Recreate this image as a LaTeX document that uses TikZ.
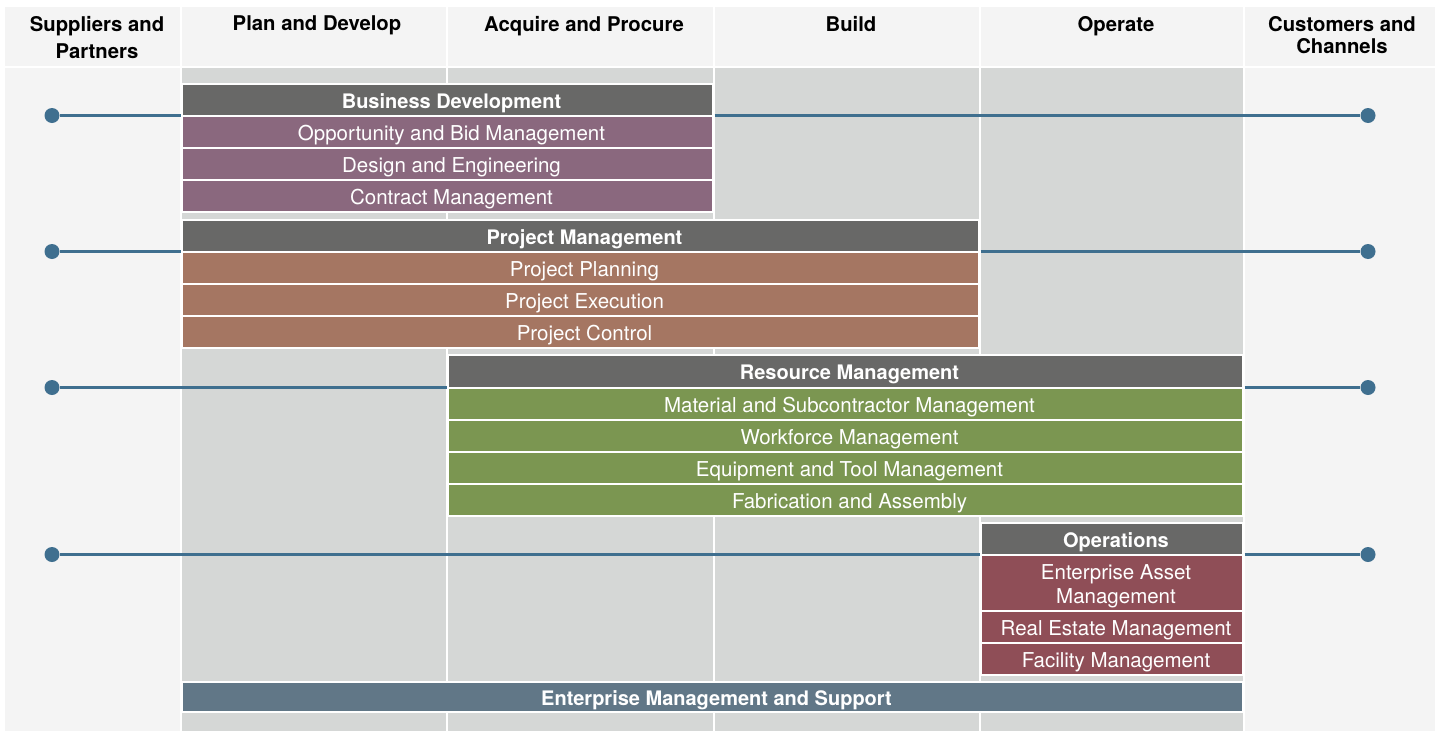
\documentclass[tikz,border=0pt]{standalone}
\usepackage{fontspec}
\setmainfont{TeX Gyre Heros}
\definecolor{hdrbg}{HTML}{F4F4F4}
\definecolor{colbg}{HTML}{D5D7D6}
\definecolor{dkhead}{HTML}{686867}
\definecolor{cPurp}{HTML}{8A687E}
\definecolor{cBrown}{HTML}{A57662}
\definecolor{cGreen}{HTML}{7B9651}
\definecolor{cRed}{HTML}{8F4E57}
\definecolor{cSlate}{HTML}{617787}
\definecolor{cLine}{HTML}{3F6F8F}
\begin{document}
\begin{tikzpicture}[x=1pt,y=-1pt,
  colhead/.style={anchor=north, inner sep=0pt, align=center, font=\bfseries\fontsize{20.3}{26}\selectfont, text=black},
  bx/.style={draw=white, line width=2pt, inner sep=0pt, outer sep=0pt, text=white, align=center},
  bxhead/.style={bx, fill=dkhead, font=\bfseries\fontsize{20}{24}\selectfont, text height=17pt, text depth=0pt, execute at begin node={\hspace*{8pt}}},
  bxitem/.style={bx, font=\fontsize{20.5}{24}\selectfont, text height=17.8pt, text depth=0pt, execute at begin node={\hspace*{8pt}}},
  dot/.style={circle, fill=cLine, minimum size=15pt, inner sep=0pt},
  conn/.style={draw=cLine, line width=2.4pt}
]
\useasboundingbox (0,0) rectangle (1440,731);
\fill[white] (0,0) rectangle (1440,731);
% header cells
\fill[hdrbg] (5,7) rectangle (180,66);
\fill[hdrbg] (182,7) rectangle (446,66);
\fill[hdrbg] (448,7) rectangle (713,66);
\fill[hdrbg] (715,7) rectangle (979,66);
\fill[hdrbg] (981,7) rectangle (1243,66);
\fill[hdrbg] (1245,7) rectangle (1435,66);
% body columns
\fill[hdrbg] (5,68) rectangle (180,731);
\fill[colbg] (182,68) rectangle (446,731);
\fill[colbg] (448,68) rectangle (713,731);
\fill[colbg] (715,68) rectangle (979,731);
\fill[colbg] (981,68) rectangle (1243,731);
\fill[hdrbg] (1245,68) rectangle (1435,731);
% column headings
\node[colhead, font=\bfseries\fontsize{20.3}{27}\selectfont] (h1) at (97,16) {Suppliers and\\Partners};
\node[colhead] (h2) at (317,16) {Plan and Develop};
\node[colhead] (h3) at (584,16) {Acquire and Procure};
\node[colhead] (h4) at (851,16) {Build};
\node[colhead] (h5) at (1116,16) {Operate};
\node[colhead, font=\bfseries\fontsize{20.3}{22}\selectfont] (h6) at (1342,16) {Customers and\\Channels};
% dots
\node[dot] (dl1) at (52,115.5) {};
\node[dot] (dl2) at (52,251.5) {};
\node[dot] (dl3) at (52,387.5) {};
\node[dot] (dl4) at (52,554.5) {};
\node[dot] (dr1) at (1368,115.5) {};
\node[dot] (dr2) at (1368,251.5) {};
\node[dot] (dr3) at (1368,387.5) {};
\node[dot] (dr4) at (1368,554.5) {};
% boxes: Business Development
\node[bxhead, minimum width=531pt, minimum height=31.5pt] (bdh) at (447.5,99.75) {Business Development};
\node[bxitem, fill=cPurp, minimum width=531pt, minimum height=32pt] (bd1) at (447.5,131.5) {Opportunity and Bid Management};
\node[bxitem, fill=cPurp, minimum width=531pt, minimum height=32pt] (bd2) at (447.5,163.5) {Design and Engineering};
\node[bxitem, fill=cPurp, minimum width=531pt, minimum height=32pt] (bd3) at (447.5,195.5) {Contract Management};
% Project Management
\node[bxhead, minimum width=797pt, minimum height=32pt] (pmh) at (580.5,235.5) {Project Management};
\node[bxitem, fill=cBrown, minimum width=797pt, minimum height=32pt] (pm1) at (580.5,267.5) {Project Planning};
\node[bxitem, fill=cBrown, minimum width=797pt, minimum height=32pt] (pm2) at (580.5,299.5) {Project Execution};
\node[bxitem, fill=cBrown, minimum width=797pt, minimum height=32pt] (pm3) at (580.5,331.5) {Project Control};
% Resource Management
\node[bxhead, minimum width=795pt, minimum height=32.5pt] (rmh) at (845.5,371.25) {Resource Management};
\node[bxitem, fill=cGreen, minimum width=795pt, minimum height=32pt] (rm1) at (845.5,403.5) {Material and Subcontractor Management};
\node[bxitem, fill=cGreen, minimum width=795pt, minimum height=32pt] (rm2) at (845.5,435.5) {Workforce Management};
\node[bxitem, fill=cGreen, minimum width=795pt, minimum height=32pt] (rm3) at (845.5,467.5) {Equipment and Tool Management};
\node[bxitem, fill=cGreen, minimum width=795pt, minimum height=32pt] (rm4) at (845.5,499.5) {Fabrication and Assembly};
% Operations
\node[bxhead, minimum width=262pt, minimum height=31.5pt] (oph) at (1112,538.75) {Operations};
\node[bx, fill=cRed, minimum width=262pt, minimum height=56pt] (op1) at (1112,582.5) {};
\node[inner sep=0pt, text=white, align=center, font=\fontsize{20.5}{24}\selectfont] (op1t) at (1116,586) {Enterprise Asset\\Management};
\node[bxitem, fill=cRed, minimum width=262pt, minimum height=32pt] (op2) at (1112,626.5) {Real Estate Management};
\node[bxitem, fill=cRed, minimum width=262pt, minimum height=32pt] (op3) at (1112,658.5) {Facility Management};
% Enterprise Management and Support
\node[bxhead, fill=cSlate, minimum width=1061pt, minimum height=30pt] (ems) at (712.5,697) {Enterprise Management and Support};
% connectors (from dot to box header and from box header to dot)
\begin{scope}[conn]
\draw (dl1) -- ([xshift=-1.5pt]bdh.south west);
\draw ([xshift=1.5pt]bdh.south east) -- (dr1);
\draw (dl2) -- ([xshift=-1.5pt]pmh.south west);
\draw ([xshift=1.5pt]pmh.south east) -- (dr2);
\draw (dl3) -- ([xshift=-1.5pt]rmh.south west);
\draw ([xshift=1.5pt]rmh.south east) -- (dr3);
\draw (dl4) -- ([xshift=-1.5pt]oph.south west);
\draw ([xshift=1.5pt]oph.south east) -- (dr4);
\end{scope}
\end{tikzpicture}
\end{document}
